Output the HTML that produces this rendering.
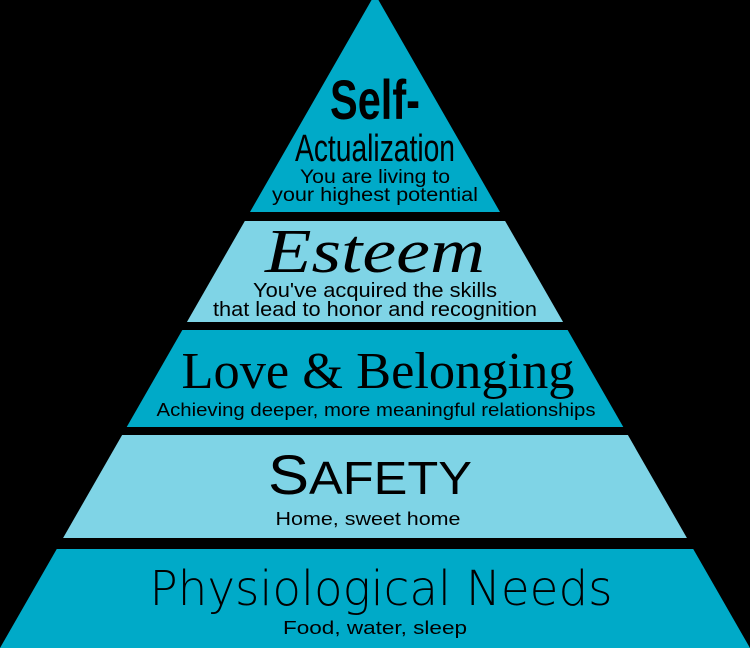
<!DOCTYPE html>
<html><head><meta charset="utf-8"><style>html,body{margin:0;padding:0;background:#000;}svg{display:block}</style></head>
<body>
<svg width="750" height="648" viewBox="0 0 750 648" xmlns="http://www.w3.org/2000/svg">
<defs><clipPath id="tri"><polygon points="375,-6 750,648 0,648"/></clipPath></defs>
<rect width="750" height="648" fill="#000"/>
<g clip-path="url(#tri)">
<rect x="0" y="0" width="750" height="212" fill="#00aac8"/>
<rect x="0" y="221" width="750" height="101" fill="#7fd4e6"/>
<rect x="0" y="330" width="750" height="97" fill="#00aac8"/>
<rect x="0" y="435" width="750" height="103" fill="#7fd4e6"/>
<rect x="0" y="549" width="750" height="99" fill="#00aac8"/>
</g>
<g fill="#000" text-anchor="middle">
<text x="375" y="119" font-family="Liberation Sans, sans-serif" font-weight="bold" font-size="56" textLength="90" lengthAdjust="spacingAndGlyphs">Self-</text>
<text x="375" y="161" font-family="Liberation Sans, sans-serif" font-size="38" textLength="160" lengthAdjust="spacingAndGlyphs">Actualization</text>
<text x="375" y="183" font-family="Liberation Sans, sans-serif" font-size="19" textLength="150" lengthAdjust="spacingAndGlyphs">You are living to</text>
<text x="375" y="201" font-family="Liberation Sans, sans-serif" font-size="19" textLength="206" lengthAdjust="spacingAndGlyphs">your highest potential</text>
<text x="375" y="272" font-family="Liberation Serif, serif" font-style="italic" font-size="62" textLength="220" lengthAdjust="spacingAndGlyphs">Esteem</text>
<text x="375" y="297" font-family="Liberation Sans, sans-serif" font-size="20" textLength="244" lengthAdjust="spacingAndGlyphs">You've acquired the skills</text>
<text x="375" y="316" font-family="Liberation Sans, sans-serif" font-size="20" textLength="324" lengthAdjust="spacingAndGlyphs">that lead to honor and recognition</text>
<text x="378" y="388" font-family="Liberation Serif, serif" font-size="52" textLength="393" lengthAdjust="spacingAndGlyphs">Love &amp; Belonging</text>
<text x="376" y="416" font-family="Liberation Sans, sans-serif" font-size="18" textLength="439" lengthAdjust="spacingAndGlyphs">Achieving deeper, more meaningful relationships</text>
<text x="370" y="494" font-family="Liberation Sans, sans-serif" font-size="46" textLength="204" lengthAdjust="spacingAndGlyphs"><tspan font-size="56">S</tspan>AFETY</text>
<text x="368" y="525" font-family="Liberation Sans, sans-serif" font-size="18" textLength="185" lengthAdjust="spacingAndGlyphs">Home, sweet home</text>
<text x="381" y="605" font-family="DejaVu Sans, sans-serif" font-weight="200" font-size="48" textLength="463" lengthAdjust="spacingAndGlyphs" style="font-stretch:condensed">Physiological Needs</text>
<text x="375" y="634" font-family="Liberation Sans, sans-serif" font-size="18" textLength="184" lengthAdjust="spacingAndGlyphs">Food, water, sleep</text>
</g>
</svg>
</body></html>
